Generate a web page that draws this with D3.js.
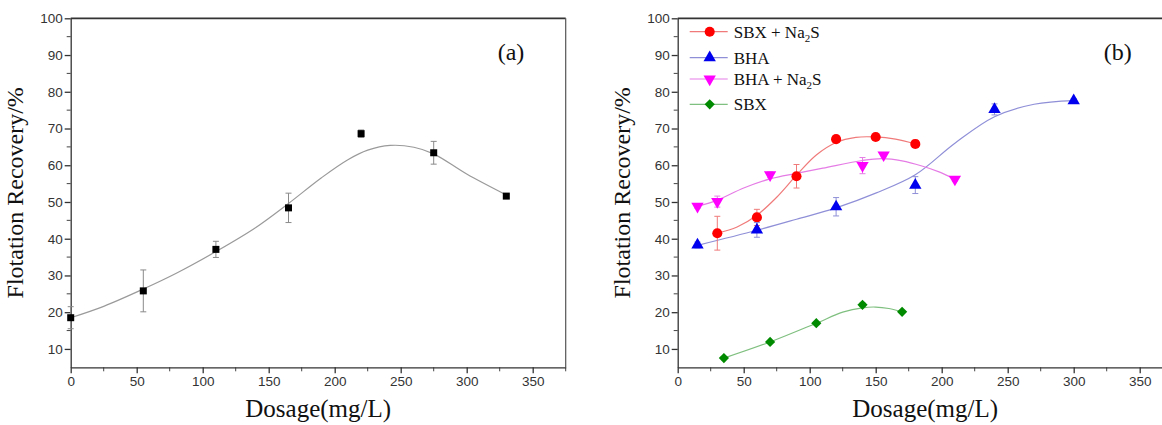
<!DOCTYPE html>
<html>
<head>
<meta charset="utf-8">
<script src="https://cdn.jsdelivr.net/npm/d3@7"></script>
<style>
  body { margin: 0; background: #fff; }
  svg { display: block; }
</style>
</head>
<body>
<div id="svg-container"></div>
<script>
/* flotation recovery vs dosage, two panels */

// ---- panel (a) data ----
let dosageA = [0, 55, 110, 165, 220, 275, 330];
let recoveryA = [18.5, 25.8, 37.1, 48.4, 68.6, 63.4, 51.6];
let errA = [3, 5.7, 2.2, 4, 1, 3.1, 0.5];
// fitted curve
let fitA = [[0, 18.5], [25, 21.6], [55, 26.3], [80, 30.6], [110, 36.5], [140, 43], [165, 49.6],
    [190, 56.6], [210, 61.5], [225, 64.1], [242, 65.4], [260, 64.9], [275, 63.1], [300, 57.6], [330, 51.9]];

// ---- panel (b) data ----
let seriesNames = ["SBX + Na2S", "BHA", "BHA + Na2S", "SBX"];

let sbxNaX = [30, 60, 90, 120, 150, 180];
let sbxNaY = [41.5, 45.8, 57, 67.1, 67.7, 65.8];
let sbxNaErr = [4.6, 2.2, 3.2, 0.8, 0.6, 1];
let sbxNaFit = [[30, 41.5], [45, 43.2], [60, 46.4], [75, 51.3], [90, 57.3], [105, 62.8], [120, 66.2],
    [135, 67.6], [150, 67.7], [165, 67.1], [180, 65.8]];

let bhaX = [15, 60, 120, 180, 240, 300];
let bhaY = [38.3, 42.4, 48.7, 54.6, 75.2, 77.6];
let bhaErr = [0.8, 2, 2.5, 2.3, 1.5, 0.5];
let bhaFit = [[15, 38.2], [60, 42.3], [90, 45.3], [120, 48.4], [150, 52.4], [180, 57.4], [210, 66],
    [240, 73.2], [270, 76.6], [300, 77.6]];

let bhaNaX = [15, 30, 70, 140, 156, 210];
let bhaNaY = [48.8, 50.1, 57.4, 59.9, 62.8, 56.2];
let bhaNaErr = [0.5, 1.5, 0.8, 2.2, 0.5, 0.5];
let bhaNaFit = [[15, 48.8], [30, 50.5], [50, 53.8], [70, 56.3], [90, 57.8], [110, 59.2], [140, 61.3],
    [155, 61.8], [170, 61.2], [185, 59.8], [198, 58.2], [210, 56.2]];

let sbxX = [35, 70, 105, 140, 170];
let sbxY = [7.5, 11.9, 17, 22, 20.1];
let sbxErr = [0.4, 0.4, 0.4, 0.5, 0.4];
let sbxFit = [[35, 7.5], [70, 11.9], [105, 17], [125, 20], [140, 21.2], [150, 21.4], [160, 21], [170, 20.1]];

let xTicks = [0, 50, 100, 150, 200, 250, 300, 350];
let yTicks = [10, 20, 30, 40, 50, 60, 70, 80, 90, 100];

let svg_width = 1162, svg_height = 425;
let plotH = 349, plotW = 495;
let serif = "'Liberation Serif', 'Times New Roman', serif";
let sans = "'Liberation Sans', Arial, sans-serif";

let svg = d3.select("#svg-container")
    .append("svg")
    .attr("width", svg_width)
    .attr("height", svg_height);
svg.append("rect").attr("width", svg_width).attr("height", svg_height).attr("fill", "#fff");

let x = d3.scaleLinear().domain([0, 375]).range([0, plotW]);
let y = d3.scaleLinear().domain([5, 100]).range([plotH, 0]);

let lineGen = d3.line()
    .x(function (d) { return x(d[0]); })
    .y(function (d) { return y(d[1]); })
    .curve(d3.curveCatmullRom);

let drawFrame = function (g, titleX, label) {
    // minor ticks first
    let minorX = d3.range(25, 376, 50);
    let minorY = d3.range(15, 100, 10);
    g.append("g").selectAll("line").data(minorX).enter().append("line")
        .attr("x1", function (d) { return x(d); }).attr("x2", function (d) { return x(d); })
        .attr("y1", plotH).attr("y2", plotH + 4)
        .attr("stroke", "#444").attr("stroke-width", 1);
    g.append("g").selectAll("line").data(minorY).enter().append("line")
        .attr("y1", function (d) { return y(d); }).attr("y2", function (d) { return y(d); })
        .attr("x1", 0).attr("x2", -4)
        .attr("stroke", "#444").attr("stroke-width", 1);

    let xAxis = g.append("g")
        .attr("transform", "translate(0," + plotH + ")")
        .call(d3.axisBottom(x).tickValues(xTicks).tickSize(6).tickSizeOuter(0));
    let yAxis = g.append("g")
        .call(d3.axisLeft(y).tickValues(yTicks).tickSize(6).tickSizeOuter(0));
    [xAxis, yAxis].forEach(function (a) {
        a.selectAll("path, line").attr("stroke", "#333").attr("stroke-width", 1.3);
        a.selectAll("text").attr("fill", "#333").style("font-family", sans).style("font-size", "13.5px");
    });
    xAxis.selectAll("text").attr("dy", "0.71em").attr("y", 9);
    yAxis.selectAll("text").attr("x", -8);

    // top and right of the box
    g.append("line").attr("x1", 0).attr("x2", plotW).attr("y1", 0).attr("y2", 0)
        .attr("stroke", "#333").attr("stroke-width", 1.8);
    g.append("line").attr("x1", plotW).attr("x2", plotW).attr("y1", 0).attr("y2", plotH)
        .attr("stroke", "#555").attr("stroke-width", 1.2);

    g.append("text")
        .attr("transform", "translate(" + titleX + "," + (plotH / 2) + ") rotate(-90)")
        .attr("text-anchor", "middle")
        .style("font-family", serif).style("font-size", "24px").attr("fill", "#111")
        .text("Flotation Recovery/%");
    g.append("text")
        .attr("x", plotW / 2).attr("y", plotH + 50)
        .attr("text-anchor", "middle")
        .style("font-family", serif).style("font-size", "25px").attr("fill", "#111")
        .text("Dosage(mg/L)");
    g.append("text")
        .attr("x", label.x).attr("y", label.y)
        .style("font-family", serif).style("font-size", "24px").attr("fill", "#111")
        .text(label.t);
};

let drawErr = function (g, xs, ys, es, color) {
    let eg = g.append("g").attr("stroke", color).attr("stroke-width", 1);
    xs.forEach(function (d, i) {
        let cx = x(d);
        eg.append("line").attr("x1", cx).attr("x2", cx).attr("y1", y(ys[i] - es[i])).attr("y2", y(ys[i] + es[i]));
        eg.append("line").attr("x1", cx - 3).attr("x2", cx + 3).attr("y1", y(ys[i] - es[i])).attr("y2", y(ys[i] - es[i]));
        eg.append("line").attr("x1", cx - 3).attr("x2", cx + 3).attr("y1", y(ys[i] + es[i])).attr("y2", y(ys[i] + es[i]));
    });
};

let symbolOf = {
    "SBX + Na2S": d3.symbolCircle,
    "BHA": d3.symbolTriangle,
    "BHA + Na2S": d3.symbolTriangle,
    "SBX": d3.symbolSquare
};
let sizeOf = { "SBX + Na2S": 80, "BHA": 66, "BHA + Na2S": 66, "SBX": 52 };
let rotOf = { "SBX + Na2S": 0, "BHA": 0, "BHA + Na2S": 180, "SBX": 45 };
let colorOf = { "SBX + Na2S": "#ff0000", "BHA": "#0000ee", "BHA + Na2S": "#ff00ff", "SBX": "#008a00" };
let lineColorOf = { "SBX + Na2S": "#f07a7a", "BHA": "#8f8fd8", "BHA + Na2S": "#e57ce5", "SBX": "#7fbf7f" };

let drawMarkers = function (g, name, xs, ys) {
    g.append("g").selectAll("path").data(xs).enter().append("path")
        .attr("d", d3.symbol().type(symbolOf[name]).size(sizeOf[name]))
        .attr("transform", function (d, i) {
            return "translate(" + x(d) + "," + y(ys[i]) + ") rotate(" + rotOf[name] + ")";
        })
        .attr("fill", colorOf[name]);
};

// ********* panel (a) *********
let gA = svg.append("g").attr("transform", "translate(70.7,18.3)");
drawFrame(gA, -48, { x: 427, y: 42, t: "(a)" });
gA.append("path").datum(fitA)
    .attr("d", lineGen).attr("fill", "none").attr("stroke", "#9a9a9a").attr("stroke-width", 1.2);
drawErr(gA, dosageA, recoveryA, errA, "#8a8a8a");
gA.append("g").selectAll("rect").data(dosageA).enter().append("rect")
    .attr("x", function (d) { return x(d) - 3.5; })
    .attr("y", function (d, i) { return y(recoveryA[i]) - 3.5; })
    .attr("width", 7).attr("height", 7)
    .attr("fill", "#000");

// ********* panel (b) *********
let gB = svg.append("g").attr("transform", "translate(677.7,18.3)");
drawFrame(gB, -48, { x: 426, y: 42, t: "(b)" });

let seriesB = [
    { name: "SBX + Na2S", xs: sbxNaX, ys: sbxNaY, es: sbxNaErr, fit: sbxNaFit },
    { name: "BHA", xs: bhaX, ys: bhaY, es: bhaErr, fit: bhaFit },
    { name: "BHA + Na2S", xs: bhaNaX, ys: bhaNaY, es: bhaNaErr, fit: bhaNaFit },
    { name: "SBX", xs: sbxX, ys: sbxY, es: sbxErr, fit: sbxFit }
];
seriesB.forEach(function (s) {
    gB.append("path").datum(s.fit)
        .attr("d", lineGen).attr("fill", "none")
        .attr("stroke", lineColorOf[s.name]).attr("stroke-width", 1.2);
});
seriesB.forEach(function (s) {
    drawErr(gB, s.xs, s.ys, s.es, lineColorOf[s.name]);
    drawMarkers(gB, s.name, s.xs, s.ys);
});

// legend
let legendY = [13.4, 39.4, 60.7, 86];
let leg = gB.append("g");
seriesNames.forEach(function (name, i) {
    let row = leg.append("g").attr("transform", "translate(12," + legendY[i] + ")");
    row.append("line").attr("x1", 0).attr("x2", 38).attr("y1", 0).attr("y2", 0)
        .attr("stroke", lineColorOf[name]).attr("stroke-width", 1.2);
    row.append("path")
        .attr("d", d3.symbol().type(symbolOf[name]).size(sizeOf[name]))
        .attr("transform", "translate(20,0) rotate(" + rotOf[name] + ")")
        .attr("fill", colorOf[name]);
    let t = row.append("text").attr("x", 44).attr("y", 6)
        .style("font-family", serif).style("font-size", "17px").attr("fill", "#111");
    if (name.indexOf("Na2S") >= 0) {
        t.append("tspan").text(name.replace("Na2S", "Na"));
        t.append("tspan").attr("dy", 4).style("font-size", "11px").text("2");
        t.append("tspan").attr("dy", -4).text("S");
    } else {
        t.text(name);
    }
});
</script>
</body>
</html>
